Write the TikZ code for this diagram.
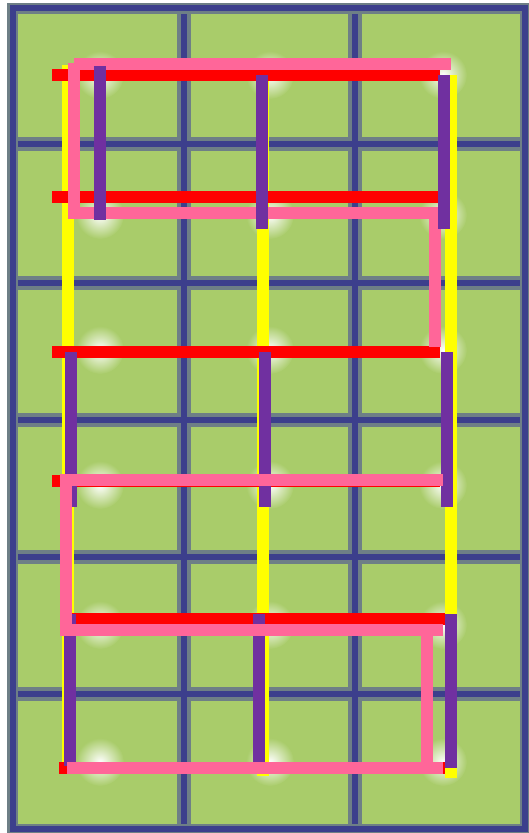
\documentclass[tikz,border=0pt]{standalone}
\begin{document}
\definecolor{cellgreen}{HTML}{A9CC6A}
\definecolor{gridnavy}{HTML}{3C3F8C}
\definecolor{gridhalo}{HTML}{6E7F86}
\definecolor{lred}{HTML}{FF0000}
\definecolor{lyellow}{HTML}{FFFF00}
\definecolor{lpurple}{HTML}{7030A0}
\definecolor{lpink}{HTML}{FF6699}
\begin{tikzpicture}[x=1pt,y=-1pt,
  halo/.style={draw=gridhalo,line width=14pt},
  gline/.style={draw=gridnavy,line width=6pt},
  redl/.style={draw=lred,line width=12pt},
  yell/.style={draw=lyellow,line width=12pt},
  purl/.style={draw=lpurple,line width=12pt},
  pinkl/.style={draw=lpink,line width=12pt},
  glow/.style={inner color=white,outer color=cellgreen}]
\useasboundingbox (0,0) rectangle (529,833);
\fill[white] (0,0) rectangle (529,833);
\fill[cellgreen] (12,8) rectangle (525,829);
% glows
\foreach \gx in {100,270,443}{
  \foreach \gy in {75,215,350,485,625,762}{
    \shade[glow] (\gx,\gy) circle (24pt);
  }}
% grid
\foreach \gx in {184,355}{\draw[halo] (\gx,8) -- (\gx,829);}
\foreach \gy in {144,283,420,557,694}{\draw[halo] (12,\gy) -- (525,\gy);}
\foreach \gx in {184,355}{\draw[gline] (\gx,8) -- (\gx,829);}
\foreach \gy in {144,283,420,557,694}{\draw[gline] (12,\gy) -- (525,\gy);}
\draw[draw=gridhalo,line width=11pt] (12,8) rectangle (525,829);
\draw[draw=gridnavy,line width=6pt] (13,8) rectangle (525,829);
% yellow
\draw[yell] (68,65) -- (68,770);
\draw[yell] (263,75) -- (263,776);
\draw[yell] (451,75) -- (451,778);
% red
\draw[redl] (52,75) -- (440,75);
\draw[redl] (52,197) -- (440,197);
\draw[redl] (52,352) -- (440,352);
\draw[redl] (52,481) -- (440,481);
\draw[redl] (60,619) -- (445,619);
\draw[redl] (59,768) -- (445,768);
% pink, upper loop
\draw[pinkl] (74,64) -- (451,64);
\draw[pinkl] (74,63) -- (74,219);
\draw[pinkl] (74,213) -- (441,213);
\draw[pinkl] (435,207) -- (435,347);
% purple
\draw[purl] (100,66) -- (100,220);
\draw[purl] (262,75) -- (262,229);
\draw[purl] (444,75) -- (444,229);
\draw[purl] (71,352) -- (71,507);
\draw[purl] (265,352) -- (265,507);
\draw[purl] (447,352) -- (447,507);
\draw[purl] (70,614) -- (70,766);
\draw[purl] (259,614) -- (259,764);
\draw[purl] (451,614) -- (451,768);
% pink, lower loop (drawn over purple)
\draw[pinkl] (67,480) -- (443,480);
\draw[pinkl] (66,474) -- (66,636);
\draw[pinkl] (67,630) -- (443,630);
\draw[pinkl] (427,630) -- (427,768);
\draw[pinkl] (67,768) -- (443,768);
\end{tikzpicture}
\end{document}
